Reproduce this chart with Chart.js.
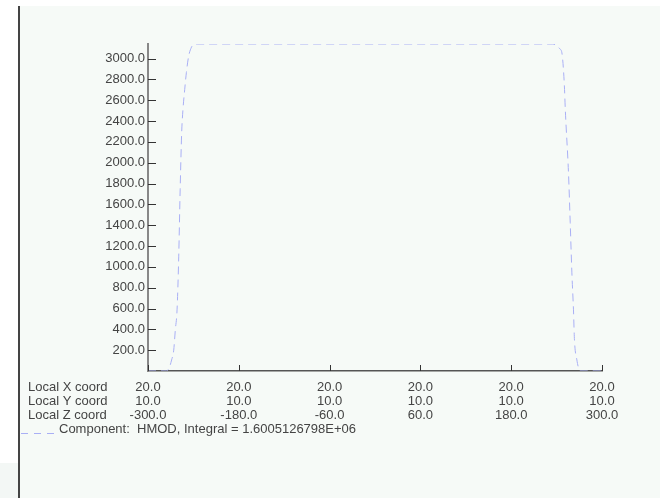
<!DOCTYPE html>
<html>
<head>
<meta charset="UTF-8">
<title>HMOD</title>
<script src="https://cdn.jsdelivr.net/npm/chart.js"></script>
<style>
  body { margin: 0; background: #fff; width: 660px; height: 498px; overflow: hidden; position: relative; }
  #panel { position: absolute; left: 18px; top: 6px; width: 642px; height: 492px; background: #f6faf7; border-left: 2px solid #444; box-sizing: border-box; }
  #corner { position: absolute; left: 0; top: 463px; width: 18px; height: 35px; background: #f3f7f5; }
  #plot { position: absolute; left: 0; top: 0; }
</style>
</head>
<body>
<div id="panel"></div>
<div id="corner"></div>
<canvas id="plot" width="660" height="498"></canvas>

<script>
  // local Z coordinate along the path and HMOD value
  const zCoord = [-300, -285, -276, -272, -268.8, -266, -263.9, -261.6, -259.4, -257.5, -255.5, -253.8, -251.5, -249.3, -246.3, -242.5, -239.6, -235,
                  235, 240, 244, 247, 249, 250.5, 251.5, 255.7, 258, 260.2, 262.3, 263.6, 266.8, 269, 271, 285, 300];
  const hmod = [0, 0, 0, 30, 106, 200, 394, 587, 1096, 1740, 2288, 2510, 2702, 2865, 3022, 3110, 3135, 3140,
                3140, 3125, 3095, 3055, 2900, 2702, 2510, 1904, 1423, 942, 587, 298, 106, 30, 0, 0, 0];

  // axis ticks
  const tickZ = [-300, -180, -60, 60, 180, 300];
  const tickXLocal = ['20.0', '20.0', '20.0', '20.0', '20.0', '20.0'];
  const tickYLocal = ['10.0', '10.0', '10.0', '10.0', '10.0', '10.0'];
  const tickH = [200, 400, 600, 800, 1000, 1200, 1400, 1600, 1800, 2000, 2200, 2400, 2600, 2800, 3000];
  const rowNames = ['Local X coord', 'Local Y coord', 'Local Z coord'];
  const seriesName = 'Component:  HMOD, Integral = 1.6005126798E+06';

  const FONT = '"Liberation Sans", Arial, sans-serif';
  const lineColor = '#a9aff5';

  const axisMarks = {
    id: 'axisMarks',
    afterDraw(chart) {
      const { ctx, chartArea: a, scales: { x, y } } = chart;
      ctx.save();
      ctx.strokeStyle = '#333';
      ctx.lineWidth = 1;
      ctx.beginPath();
      y.ticks.forEach(t => {
        const py = Math.round(y.getPixelForValue(t.value)) + 0.5;
        ctx.moveTo(a.left, py);
        ctx.lineTo(a.left + 8, py);
      });
      x.ticks.forEach(t => {
        const px = Math.round(x.getPixelForValue(t.value)) + 0.5;
        ctx.moveTo(px, a.bottom);
        ctx.lineTo(px, a.bottom - 6);
      });
      ctx.stroke();

      // row captions for the multi-line x labels
      ctx.fillStyle = '#444';
      ctx.font = '13px ' + FONT;
      ctx.textBaseline = 'middle';
      ctx.textAlign = 'left';
      rowNames.forEach((n, i) => ctx.fillText(n, 28, a.bottom + 16 + i * 14));

      // legend
      ctx.strokeStyle = lineColor;
      ctx.setLineDash([7, 6]);
      ctx.beginPath();
      ctx.moveTo(21, a.bottom + 62.5);
      ctx.lineTo(54, a.bottom + 62.5);
      ctx.stroke();
      ctx.setLineDash([]);
      ctx.fillText(chart.data.datasets[0].label, 59, a.bottom + 58);
      ctx.restore();
    }
  };

  new Chart(document.getElementById('plot'), {
    type: 'line',
    data: {
      datasets: [{
        label: seriesName,
        data: zCoord.map((z, i) => ({ x: z, y: hmod[i] })),
        borderColor: lineColor,
        borderWidth: 1,
        borderDash: [8, 5],
        pointRadius: 0,
        fill: false,
        cubicInterpolationMode: 'monotone'
      }]
    },
    options: {
      responsive: false,
      animation: false,
      layout: { padding: { top: 44, right: 58, left: 0, bottom: 0 } },
      plugins: { legend: { display: false }, tooltip: { enabled: false } },
      scales: {
        x: {
          type: 'linear',
          min: -300,
          max: 300,
          afterFit: s => { s.height = 127; },
          afterBuildTicks: s => { s.ticks = tickZ.map(v => ({ value: v })); },
          grid: { display: false, drawTicks: false },
          border: { display: true, color: '#555', width: 1.5 },
          ticks: {
            padding: 9.5,
            maxRotation: 0,
            autoSkip: false,
            color: '#444',
            font: { family: FONT, size: 13, lineHeight: '14px' },
            callback: (v, i) => [tickXLocal[i], tickYLocal[i], v.toFixed(1)]
          }
        },
        y: {
          min: 0,
          max: 3140,
          afterFit: s => { s.width = 148; },
          afterBuildTicks: s => { s.ticks = tickH.map(v => ({ value: v })); },
          grid: { display: false, drawTicks: false },
          border: { display: true, color: '#888', width: 2 },
          ticks: {
            padding: 3,
            autoSkip: false,
            color: '#444',
            font: { family: FONT, size: 13 },
            callback: v => v.toFixed(1)
          }
        }
      }
    },
    plugins: [axisMarks]
  });
</script>
</body>
</html>
